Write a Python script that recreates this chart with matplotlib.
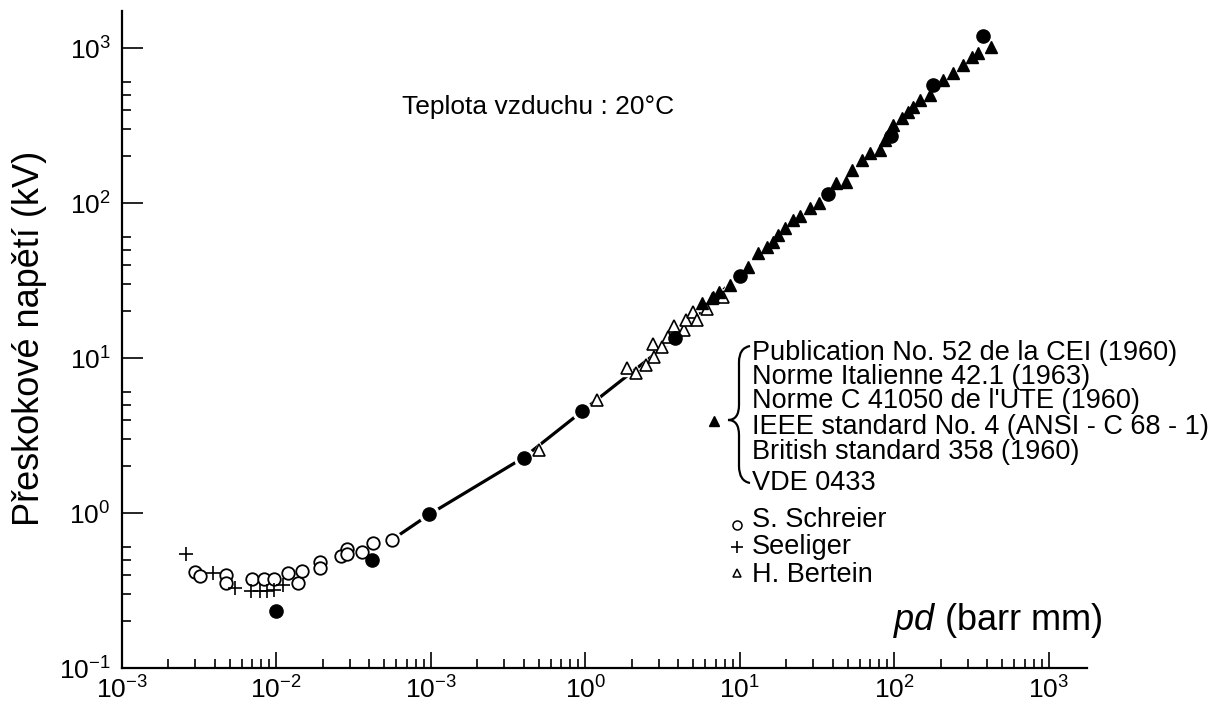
import numpy as np
import matplotlib
matplotlib.use("Agg")
import matplotlib.pyplot as plt
from matplotlib.path import Path
from matplotlib.patches import PathPatch
from matplotlib.ticker import LogLocator, NullFormatter

plt.rcParams['font.family'] = ['Liberation Sans', 'DejaVu Sans']
plt.rcParams['mathtext.fontset'] = 'custom'
plt.rcParams['mathtext.rm'] = 'Liberation Sans'
plt.rcParams['mathtext.it'] = 'Liberation Sans:italic'

# pd (bar mm) / breakdown voltage (kV)
# S. Schreier (open circles)
schreier_x = [0.0030, 0.0032, 0.0047, 0.0047, 0.0070, 0.0083, 0.0097, 0.0120, 0.0138,
              0.0146, 0.0192, 0.0192, 0.0262, 0.0288, 0.0288, 0.0357, 0.0421, 0.0559]
schreier_y = [0.418, 0.393, 0.398, 0.355, 0.375, 0.375, 0.375, 0.412, 0.352,
              0.425, 0.485, 0.440, 0.528, 0.583, 0.541, 0.562, 0.643, 0.670]

# Seeliger (crosses)
seeliger_x = [0.0026, 0.0039, 0.0054, 0.0069, 0.0079, 0.0087, 0.0097, 0.0111]
seeliger_y = [0.541, 0.408, 0.327, 0.315, 0.315, 0.315, 0.318, 0.343]

# H. Bertein (open triangles)
bertein_x = [0.505, 1.19, 1.86, 2.13, 2.47, 2.79, 2.76, 3.13, 3.45, 3.76, 4.36, 4.49,
             5.01, 5.27, 6.11, 7.76]
bertein_y = [2.55, 5.36, 8.58, 8.04, 9.02, 10.2, 12.3, 11.7, 13.6, 16.1, 15.2, 17.6,
             19.9, 17.6, 20.6, 24.7]

# standards (filled triangles)
standard_x = [5.68, 6.59, 6.72, 7.38, 8.65, 11.4, 13.2, 15.0, 16.5, 17.8, 19.6, 22.2,
              24.5, 28.5, 32.7, 42.0, 48.8, 53.1, 61.6, 69.7, 80.9, 87.2, 98.6, 112,
              123, 133, 147, 170, 208, 239, 280, 317, 350, 423]
standard_y = [22.5, 24.3, 24.8, 26.8, 29.8, 38.8, 47.4, 52.2, 56.3, 62.2, 68.7, 77.6,
              82.4, 92.4, 100.5, 134, 137, 163, 189, 209, 220, 255, 318, 352,
              388, 418, 462, 498, 622, 693, 776, 879, 933, 1020]

# filled circles on the curve
dots_x = [0.0099, 0.042, 0.098, 0.40, 0.96, 3.8, 10.0, 37.5, 96, 177, 378]
dots_y = [0.234, 0.50, 0.98, 2.28, 4.55, 13.4, 34, 114, 270, 577, 1194]

# curve drawn through the points (hidden under the markers further up)
curve_x = [0.0559, 0.098, 0.40, 0.96, 3.8, 8.0]
curve_y = [0.670, 0.98, 2.28, 4.55, 13.4, 28.0]

x_ticks = [1e-3, 1e-2, 1e-1, 1e0, 1e1, 1e2, 1e3]
x_tick_labels = ['$10^{-3}$', '$10^{-2}$', '$10^{-3}$', '$10^{0}$', '$10^{1}$',
                 '$10^{2}$', '$10^{3}$']
y_ticks = [1e-1, 1e0, 1e1, 1e2, 1e3]
y_tick_labels = ['$10^{-1}$', '$10^{0}$', '$10^{1}$', '$10^{2}$', '$10^{3}$']

standards = ['Publication No. 52 de la CEI (1960)',
             'Norme Italienne 42.1 (1963)',
             "Norme C 41050 de l'UTE (1960)",
             'IEEE standard No. 4 (ANSI - C 68 - 1)',
             'British standard 358 (1960)',
             'VDE 0433']
authors = ['S. Schreier', 'Seeliger', 'H. Bertein']

W, H = 1218, 704
fig = plt.figure(figsize=(W / 100, H / 100), dpi=100)
ax = fig.add_axes([121.7 / W, 36 / H, 965.3 / W, 657 / H])
ax.set_xscale('log')
ax.set_yscale('log')
ax.set_xlim(1e-3, 1770)
ax.set_ylim(0.1, 1734)

# curve
ax.plot(curve_x, curve_y, color='black', lw=2.3, zorder=2)

# white halos so the line breaks around the markers
ax.plot(dots_x, dots_y, 'o', ms=14, color='white', zorder=3)
ax.plot(schreier_x, schreier_y, 'o', ms=13, color='white', zorder=3)
ax.plot(bertein_x, bertein_y, '^', ms=12, color='white', zorder=3)
ax.plot(standard_x, standard_y, '^', ms=11, color='white', zorder=3)

ax.plot(schreier_x, schreier_y, 'o', ms=9, mfc='white', mec='black', mew=1.3, ls='none', zorder=4)
ax.plot(seeliger_x, seeliger_y, '+', ms=10, color='black', mew=1.2, ls='none', zorder=4)
ax.plot(bertein_x, bertein_y, '^', ms=8, mfc='white', mec='black', mew=1.2, ls='none', zorder=4)
ax.plot(standard_x, standard_y, '^', ms=8.5, color='black', ls='none', zorder=4)
ax.plot(dots_x, dots_y, 'o', ms=9.5, color='black', ls='none', zorder=5)

# axes look
for s in ['top', 'right']:
    ax.spines[s].set_visible(False)
for s in ['left', 'bottom']:
    ax.spines[s].set_linewidth(1.6)
ax.set_xticks(x_ticks, labels=x_tick_labels)
ax.set_yticks(y_ticks, labels=y_tick_labels)
ax.xaxis.set_minor_locator(LogLocator(base=10, subs=range(2, 10), numticks=20))
ax.yaxis.set_minor_locator(LogLocator(base=10, subs=(2, 3, 4, 5, 6), numticks=20))
ax.xaxis.set_minor_formatter(NullFormatter())
ax.yaxis.set_minor_formatter(NullFormatter())
ax.tick_params(axis='both', which='both', direction='in', width=1.2, labelsize=19)
ax.tick_params(axis='x', which='major', length=11.5, pad=6)
ax.tick_params(axis='y', which='major', length=15, pad=8)
ax.tick_params(axis='both', which='minor', length=6.5)

def fx(px):
    return px / W

def fy(py):
    return 1 - py / H

fig.text(fx(30), fy(338), 'Přeskokové napětí (kV)', rotation=90, fontsize=26,
         ha='center', va='center')
fig.text(fx(893), fy(620), r'$\mathit{pd}$ (barr mm)', fontsize=26, ha='left', va='center')
fig.text(fx(402), fy(107), 'Teplota vzduchu : 20°C', fontsize=19, ha='left', va='center')

# legend block
line_y = [353, 377, 401, 427, 452, 483]
for name, py in zip(standards, line_y):
    fig.text(fx(752), fy(py), name, fontsize=19.5, ha='left', va='center')

author_y = [520, 547, 575]
for name, py in zip(authors, author_y):
    fig.text(fx(752), fy(py), name, fontsize=19.5, ha='left', va='center')

legend_ax = fig.add_axes([0, 0, 1, 1], facecolor='none')
legend_ax.set_xlim(0, W)
legend_ax.set_ylim(H, 0)
legend_ax.axis('off')
legend_ax.plot([737], [525], 'o', ms=6.5, mfc='white', mec='black', mew=1.1)
legend_ax.plot([737], [547], '+', ms=9, color='black', mew=1.2)
legend_ax.plot([737], [573], '^', ms=6, mfc='white', mec='black', mew=1.1)
legend_ax.plot([714], [421], '^', ms=7, color='black')

# curly brace
verts = [(750, 346), (739, 348), (739, 362), (739, 405), (739, 420), (728, 420),
         (739, 420), (739, 435), (739, 466), (739, 481), (750, 483)]
codes = [Path.MOVETO, Path.CURVE3, Path.CURVE3, Path.LINETO, Path.CURVE3, Path.CURVE3,
         Path.CURVE3, Path.CURVE3, Path.LINETO, Path.CURVE3, Path.CURVE3]
legend_ax.add_patch(PathPatch(Path(verts, codes), fill=False, lw=1.6, color='black'))

fig.savefig('out.png', dpi=100)
